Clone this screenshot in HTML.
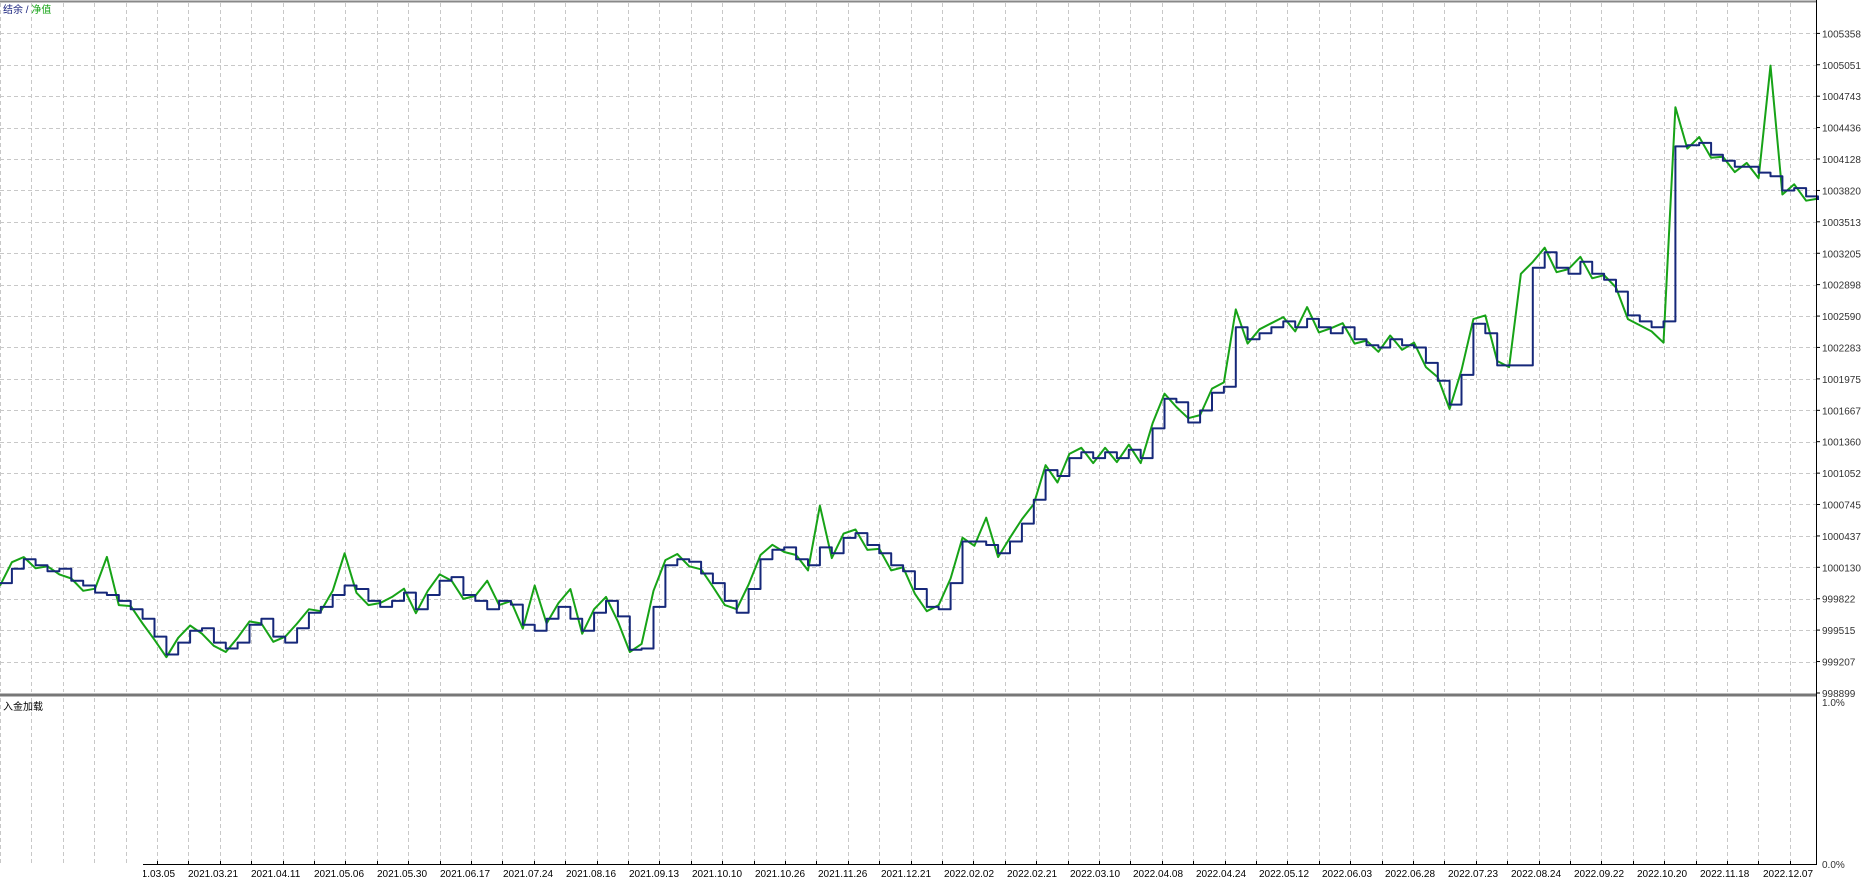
<!DOCTYPE html>
<html><head><meta charset="utf-8"><style>
html,body{margin:0;padding:0;background:#fff;width:1862px;height:879px;overflow:hidden}
svg{display:block;font-family:"Liberation Sans","Noto Sans CJK SC",sans-serif}
</style></head><body>
<svg id="chart" width="1862" height="879" viewBox="0 0 1862 879" xmlns="http://www.w3.org/2000/svg">
<rect x="0" y="0" width="1862" height="879" fill="#fff"/>
<g id="grid"></g>
<g id="series"></g>
<g id="yaxis"></g>
<g id="xaxis"></g>
<line x1="0" y1="1.5" x2="1816" y2="1.5" stroke="#888" stroke-width="2"/>
<line x1="1816.5" y1="0" x2="1816.5" y2="865" stroke="#000" stroke-width="1"/>
<line x1="0" y1="695" x2="1816" y2="695" stroke="#777" stroke-width="3"/>
<line x1="143" y1="864.5" x2="1816" y2="864.5" stroke="#000" stroke-width="1"/>
<text x="3" y="13" font-size="10"><tspan fill="#1a237e">结余 / </tspan><tspan fill="#13a313">净值</tspan></text>
<text x="3" y="710" font-size="10" fill="#000">入金加载</text>
<text x="1822" y="706" font-size="10" fill="#333">1.0%</text>
<text x="1822" y="868" font-size="10" fill="#333">0.0%</text>
</svg>
<script>
const balance=[999975,1000115,1000208,1000150,1000092,1000115,999999,999952,999882,999859,999801,999719,999626,999451,999276,999393,999509,999533,999393,999335,999393,999568,999626,999451,999393,999533,999684,999742,999859,999952,999917,999801,999742,999801,999882,999719,999859,999999,1000034,999859,999801,999719,999801,999765,999568,999509,999626,999742,999626,999509,999684,999801,999649,999323,999335,999742,1000150,1000208,1000185,1000069,999975,999801,999684,999917,1000208,1000302,1000325,1000208,1000150,1000325,1000267,1000418,1000465,1000348,1000267,1000150,1000092,999917,999742,999719,999975,1000383,1000383,1000348,1000267,1000383,1000558,1000791,1001082,1001024,1001199,1001257,1001199,1001257,1001199,1001280,1001199,1001490,1001781,1001746,1001548,1001665,1001839,1001898,1002480,1002364,1002422,1002480,1002538,1002480,1002562,1002480,1002422,1002480,1002364,1002305,1002282,1002364,1002305,1002282,1002131,1001956,1001723,1002014,1002515,1002422,1002107,1002107,1002107,1003063,1003214,1003063,1003004,1003121,1003004,1002946,1002830,1002597,1002538,1002480,1002538,1004251,1004263,1004286,1004169,1004111,1004053,1004053,1003995,1003960,1003820,1003843,1003762,1003727];
const equity=[999950,1000180,1000230,1000120,1000140,1000060,1000020,999900,999920,1000232,999760,999750,999580,999420,999250,999440,999560,999480,999360,999300,999440,999600,999580,999400,999450,999580,999720,999700,999900,1000267,999880,999760,999780,999840,999920,999680,999900,1000060,1000000,999820,999850,999999,999760,999800,999530,999952,999580,999780,999917,999480,999720,999840,999600,999300,999380,999900,1000200,1000260,1000140,1000110,999940,999760,999720,999960,1000250,1000350,1000280,1000250,1000100,1000733,1000220,1000460,1000500,1000300,1000310,1000100,1000130,999870,999700,999760,1000020,1000420,1000340,1000616,1000230,1000420,1000600,1000750,1001130,1000960,1001240,1001300,1001150,1001300,1001160,1001330,1001150,1001540,1001830,1001700,1001590,1001620,1001880,1001940,1002655,1002320,1002460,1002520,1002580,1002440,1002678,1002430,1002470,1002520,1002320,1002350,1002240,1002400,1002260,1002330,1002090,1001990,1001680,1002060,1002560,1002597,1002150,1002090,1003004,1003120,1003260,1003020,1003050,1003170,1002960,1002990,1002870,1002560,1002500,1002440,1002329,1004635,1004230,1004344,1004140,1004150,1004000,1004090,1003940,1005043,1003780,1003880,1003720,1003740];
const yTicks=[1005358,1005051,1004743,1004436,1004128,1003820,1003513,1003205,1002898,1002590,1002283,1001975,1001667,1001360,1001052,1000745,1000437,1000130,999822,999515,999207,998899];
const dateLabels=["2021.03.05","2021.03.21","2021.04.11","2021.05.06","2021.05.30","2021.06.17","2021.07.24","2021.08.16","2021.09.13","2021.10.10","2021.10.26","2021.11.26","2021.12.21","2022.02.02","2022.02.21","2022.03.10","2022.04.08","2022.04.24","2022.05.12","2022.06.03","2022.06.28","2022.07.23","2022.08.24","2022.09.22","2022.10.20","2022.11.18","2022.12.07"];

const NS="http://www.w3.org/2000/svg";
const yMin=998899,yMax=1005358,yBot=693,yTop=33.4;
function yScale(v){return yBot-(v-yMin)*(yBot-yTop)/(yMax-yMin);}
const xStart=0,xEnd=1818;
function xScale(i){return xStart+i*(xEnd-xStart)/(balance.length-1);}
function mk(tag,attrs,parent){const e=document.createElementNS(NS,tag);for(const k in attrs)e.setAttribute(k,attrs[k]);parent.appendChild(e);return e;}

const grid=document.getElementById('grid');
for(let k=0;k*31.4<1816;k++){
  const x=Math.round(k*31.4)+0.5;
  const l=mk('line',{x1:x,y1:3,x2:x,y2:692,stroke:'#c8c8c8','stroke-dasharray':'4,3'},grid);
  
  
  const l2=mk('line',{x1:x,y1:698,x2:x,y2:863,stroke:'#c8c8c8','stroke-dasharray':'4,3'},grid);
  
  
}
const yaxis=document.getElementById('yaxis');
yTicks.forEach((v,i)=>{
  const y=yScale(v);
  if(i<yTicks.length-1){
    const g=mk('line',{x1:0,y1:Math.round(y)+0.5,x2:1816,y2:Math.round(y)+0.5,stroke:'#c8c8c8','stroke-dasharray':'4,3'},grid);
    
    
  }
  mk('line',{x1:1816,y1:y,x2:1820,y2:y,stroke:'#000'},yaxis);
  const t=mk('text',{x:1822,y:y+4,'font-size':10,fill:'#333'},yaxis);
  t.textContent=String(v);
  
  
});
const xaxis=document.getElementById('xaxis');
const clip=mk('clipPath',{id:'xc'},xaxis);mk('rect',{x:143,y:860,width:1680,height:20},clip);
const xl=mk('g',{'clip-path':'url(#xc)'},xaxis);
dateLabels.forEach((d,i)=>{
  const x=125+i*63;
  const t=mk('text',{x:x,y:877,'font-size':10,fill:'#000'},xl);
  t.textContent=d;
  
  
});
for(let k=5;k*31.4<1816;k++){mk('line',{x1:Math.round(k*31.4)+0.5,y1:861,x2:Math.round(k*31.4)+0.5,y2:865,stroke:'#000'},xaxis);}

const series=document.getElementById('series');
function pts(arr){return arr.map((v,i)=>xScale(i).toFixed(1)+','+yScale(v).toFixed(1)).join(' ');}
function stepPts(arr){const out=[];arr.forEach((v,i)=>{const y=yScale(v).toFixed(1);if(i>0)out.push(xScale(i).toFixed(1)+','+yScale(arr[i-1]).toFixed(1));out.push(xScale(i).toFixed(1)+','+y);});return out.join(' ');}
const eq=mk('polyline',{points:pts(equity),fill:'none',stroke:'#17a317','stroke-width':2,'stroke-linejoin':'round'},series);


const bl=mk('polyline',{points:stepPts(balance),fill:'none',stroke:'#16287a','stroke-width':2,'stroke-linejoin':'round'},series);


</script>
</body></html>
